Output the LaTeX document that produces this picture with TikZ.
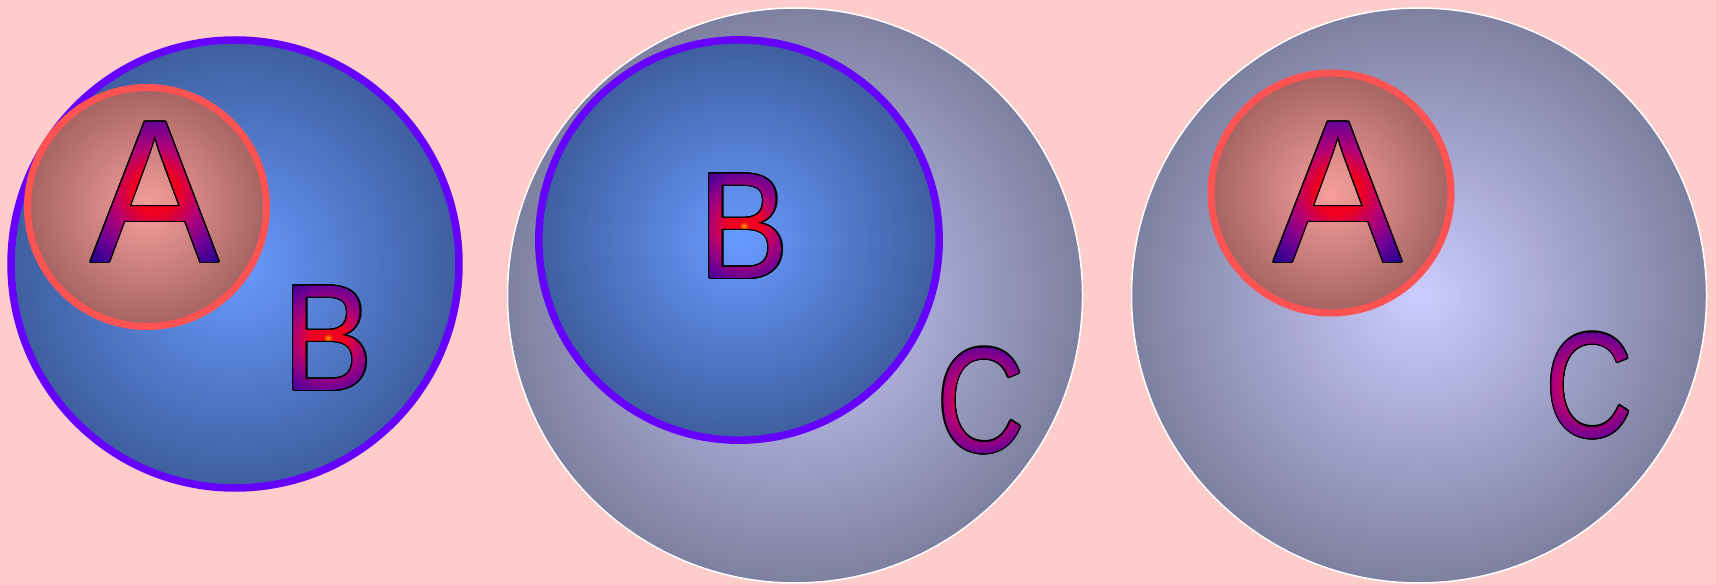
\documentclass[tikz,border=0pt]{standalone}
\usepackage{fontspec}
\newfontfamily\letfont{Liberation Sans}
\usetikzlibrary{fadings,calc}
\definecolor{bg}{RGB}{255,204,204}
\definecolor{binner}{RGB}{104,154,255}
\definecolor{bouter}{RGB}{62,94,158}
\definecolor{bstroke}{RGB}{102,0,255}
\definecolor{rinner}{RGB}{246,158,156}
\definecolor{router}{RGB}{164,100,98}
\definecolor{rstroke}{RGB}{255,82,82}
\definecolor{ginner}{RGB}{204,204,255}
\definecolor{gouter}{RGB}{126,128,160}
\definecolor{lorange}{RGB}{255,150,0}
\definecolor{lred}{RGB}{240,0,30}
\definecolor{lmag}{RGB}{180,0,115}
\definecolor{lpurp}{RGB}{105,0,150}
\definecolor{ldark}{RGB}{40,0,140}
\pgfdeclareradialshading{letshade}{\pgfpoint{0bp}{0bp}}{color(0bp)=(lorange); color(1.5bp)=(lred); color(5bp)=(lred); color(10bp)=(lmag); color(16bp)=(lpurp); color(21bp)=(ldark); color(50bp)=(ldark)}
\tikzset{
  glyphbase/.style={inner sep=0pt, outer sep=0pt, anchor=center},
  fontA/.style={font=\letfont\fontsize{204}{204}\selectfont, xscale=0.95},
  fontB/.style={font=\letfont\fontsize{152}{152}\selectfont, xscale=0.89},
  fontC/.style={font=\letfont\fontsize{150}{150}\selectfont, xscale=0.81},
  bluedisc/.style={line width=7.5pt, draw=bstroke, inner color=binner, outer color=bouter},
  reddisc/.style={line width=7pt, draw=rstroke, inner color=rinner, outer color=router},
  greydisc/.style={line width=1.5pt, draw=white, inner color=ginner, outer color=gouter}
}
\begin{tikzfadingfrompicture}[name=fadeA]
  \node[glyphbase, fontA, text=transparent!0] {A};
\end{tikzfadingfrompicture}
\begin{tikzfadingfrompicture}[name=fadeB]
  \node[glyphbase, fontB, text=transparent!0] {B};
\end{tikzfadingfrompicture}
\begin{tikzfadingfrompicture}[name=fadeC]
  \node[glyphbase, fontC, text=transparent!0] {C};
\end{tikzfadingfrompicture}
% #1 name, #2 coordinate, #3 letter, #4 font style, #5 fading, #6 half size
\newcommand\shadedglyph[6]{%
  \foreach \ang in {0,30,...,330}{\node[glyphbase, #4, text=black] at ($(#2)+(\ang:1.15)$) {#3};}
  \node[glyphbase, #4, text=black] (#1) at (#2) {#3};
  \shade[path fading=#5, fit fading=false, fading transform={shift={(#2)}}, shading=letshade]
    ($(#2)+(-#6,-#6)$) rectangle ($(#2)+(#6,#6)$);
}
\begin{document}
\begin{tikzpicture}[x=1pt,y=-1pt]
\fill[bg] (0,0) rectangle (1716,585);
\useasboundingbox (0,0) rectangle (1716,585);
% centres
\coordinate (cB1) at (235,264);
\coordinate (cA1) at (147,207);
\coordinate (cC2) at (795,295.5);
\coordinate (cB2) at (739,240);
\coordinate (cC3) at (1419,295.5);
\coordinate (cA3) at (1331,193);
\coordinate (pA1) at (155,192);
\coordinate (pB1) at (328,338);
\coordinate (pB2) at (744,226);
\coordinate (pC2) at (981,400.5);
\coordinate (pA3) at (1338,192);
\coordinate (pC3) at (1589.5,385.5);
% group 1
\path[bluedisc] (cB1) circle[radius=224];
\path[reddisc] (cA1) circle[radius=119.5];
\shadedglyph{A1}{pA1}{A}{fontA}{fadeA}{110}
\shadedglyph{B1}{pB1}{B}{fontB}{fadeB}{82}
% group 2
\path[greydisc] (cC2) circle[radius=287.5];
\path[bluedisc] (cB2) circle[radius=200.2];
\shadedglyph{B2}{pB2}{B}{fontB}{fadeB}{82}
\shadedglyph{C2}{pC2}{C}{fontC}{fadeC}{83}
% group 3
\path[greydisc] (cC3) circle[radius=287.5];
\path[reddisc] (cA3) circle[radius=120];
\shadedglyph{A3}{pA3}{A}{fontA}{fadeA}{110}
\shadedglyph{C3}{pC3}{C}{fontC}{fadeC}{83}
\end{tikzpicture}
\end{document}
